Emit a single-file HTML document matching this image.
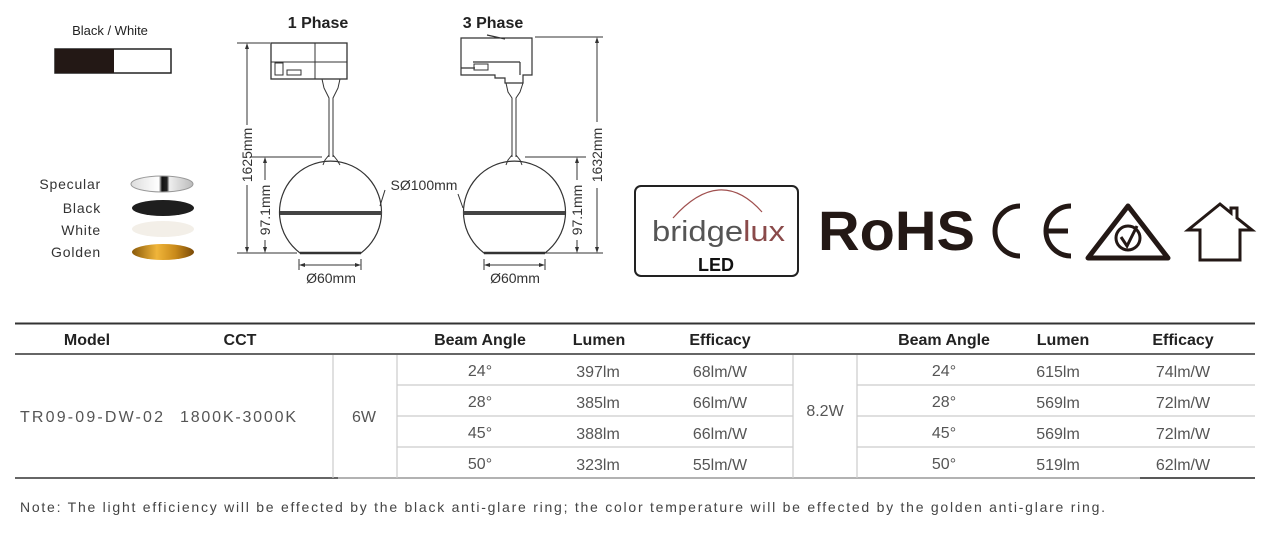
<!DOCTYPE html>
<html><head><meta charset="utf-8"><style>
html,body{margin:0;padding:0;background:#fff;}
svg{display:block;font-family:"Liberation Sans",sans-serif;}
</style></head><body>
<svg width="1273" height="533" viewBox="0 0 1273 533" xmlns="http://www.w3.org/2000/svg">
<text x="110" y="35" font-size="13" text-anchor="middle" fill="#222">Black  / White</text>
<rect x="55" y="49" width="116" height="24" fill="#fff" stroke="#222" stroke-width="1.5"/>
<rect x="55" y="49" width="59" height="24" fill="#231815"/>
<g font-size="14" fill="#333" text-anchor="end" letter-spacing="0.8">
<text x="101" y="189">Specular</text>
<text x="101" y="213">Black</text>
<text x="101" y="235">White</text>
<text x="101" y="257">Golden</text>
</g>
<defs>
<linearGradient id="gold" x1="0" x2="1"><stop offset="0" stop-color="#8a5a0a"/><stop offset="0.4" stop-color="#f0b53a"/><stop offset="0.7" stop-color="#c98a1a"/><stop offset="1" stop-color="#7a4a08"/></linearGradient>
<linearGradient id="spec" x1="0" x2="1"><stop offset="0" stop-color="#ddd"/><stop offset="0.45" stop-color="#fff"/><stop offset="0.5" stop-color="#111"/><stop offset="0.58" stop-color="#222"/><stop offset="0.62" stop-color="#eee"/><stop offset="1" stop-color="#bbb"/></linearGradient>
</defs>
<ellipse cx="162" cy="184" rx="31" ry="8" fill="url(#spec)" stroke="#999" stroke-width="1"/>
<ellipse cx="163" cy="208" rx="31" ry="8" fill="#1e1e1e"/>
<ellipse cx="163" cy="229" rx="31" ry="8" fill="#f3efe8"/>
<ellipse cx="163" cy="252" rx="31" ry="8" fill="url(#gold)"/>

<text x="318" y="28" font-size="16" font-weight="bold" text-anchor="middle" fill="#222">1 Phase</text>
<g stroke="#333" stroke-width="1" fill="none">
<line x1="237" y1="43" x2="270" y2="43"/>
<line x1="237" y1="253" x2="297" y2="253"/>
<line x1="247" y1="45" x2="247" y2="125"/><line x1="247" y1="185" x2="247" y2="251"/>
<line x1="250" y1="157" x2="322" y2="157"/>
<line x1="265" y1="159" x2="265" y2="180"/><line x1="265" y1="240" x2="265" y2="251"/>
<rect x="271" y="43" width="76" height="36" stroke-width="1.3"/>
<line x1="271" y1="62" x2="347" y2="62"/>
<line x1="315" y1="43" x2="315" y2="79"/>
<rect x="275" y="63" width="8" height="12"/><rect x="287" y="70" width="14" height="5"/>
<path d="M322 79 L340 79 L338 88 L333 98 L333 157 M322 79 L324 88 L329 98 L329 157"/>
<path d="M329 155 L325 160 L323 165 M333 155 L337 160 L340 165"/>
<path d="M300 253 A51 51 0 1 1 361 253 Z" stroke-width="1.2"/>
<line x1="300" y1="253" x2="361" y2="253" stroke-width="2.5"/>
<line x1="299" y1="259" x2="299" y2="270"/><line x1="361" y1="259" x2="361" y2="270"/>
<line x1="301" y1="265" x2="359" y2="265"/>
<line x1="385" y1="190" x2="380" y2="206"/>
</g>
<rect x="280" y="211" width="102" height="4" fill="#444"/>
<g fill="#333">
<path d="M247 43 l-2 6 h4z M247 253 l-2 -6 h4z M265 157 l-2 6 h4z M265 253 l-2 -6 h4z M299 265 l6 -2 v4z M361 265 l-6 -2 v4z"/>
</g>
<g font-size="14" fill="#333">
<text transform="translate(252,155) rotate(-90)" text-anchor="middle">1625mm</text>
<text transform="translate(270,210) rotate(-90)" text-anchor="middle">97.1mm</text>
<text x="331" y="283" text-anchor="middle">Ø60mm</text>
<text x="424" y="190" text-anchor="middle">SØ100mm</text>
</g>

<text x="493" y="28" font-size="16" font-weight="bold" text-anchor="middle" fill="#222">3 Phase</text>
<g stroke="#333" stroke-width="1" fill="none">
<line x1="535" y1="37" x2="603" y2="37"/>
<line x1="545" y1="253" x2="603" y2="253"/>
<line x1="597" y1="39" x2="597" y2="122"/><line x1="597" y1="188" x2="597" y2="251"/>
<line x1="525" y1="157" x2="586" y2="157"/>
<line x1="577" y1="159" x2="577" y2="180"/><line x1="577" y1="240" x2="577" y2="251"/>
<path d="M461 38 L532 38 L532 75 L523 75 L523 83 L505 83 L505 78 L495 78 L495 75 L461 75 Z M461 68 L475 68 M473 62 L520 62 M520 62 L520 75 M487 35 L505 39" stroke-width="1.2"/>
<rect x="474" y="64" width="14" height="6"/>
<path d="M506 83 L523 83 L520 92 L516 98 L516 157 M506 83 L508 92 L512 98 L512 157"/>
<path d="M512 155 L508 160 L506 165 M516 155 L520 160 L522 165"/>
<path d="M484 253 A51 51 0 1 1 545 253 Z" stroke-width="1.2"/>
<line x1="484" y1="253" x2="545" y2="253" stroke-width="2.5"/>
<line x1="484" y1="259" x2="484" y2="270"/><line x1="545" y1="259" x2="545" y2="270"/>
<line x1="486" y1="265" x2="543" y2="265"/>
<line x1="458" y1="194" x2="463" y2="208"/>
</g>
<rect x="463" y="211" width="102" height="4" fill="#444"/>
<g fill="#333">
<path d="M597 37 l-2 6 h4z M597 253 l-2 -6 h4z M577 157 l-2 6 h4z M577 253 l-2 -6 h4z M484 265 l6 -2 v4z M545 265 l-6 -2 v4z"/>
</g>
<g font-size="14" fill="#333">
<text transform="translate(602,155) rotate(-90)" text-anchor="middle">1632mm</text>
<text transform="translate(582,210) rotate(-90)" text-anchor="middle">97.1mm</text>
<text x="515" y="283" text-anchor="middle">Ø60mm</text>
</g>

<rect x="635" y="186" width="163" height="90" rx="6" fill="#fff" stroke="#222" stroke-width="2"/>
<path d="M673 218 Q720 165 762 212" stroke="#a0504f" stroke-width="1.2" fill="none"/>
<text x="652" y="241" font-size="29" fill="#555" textLength="133" lengthAdjust="spacingAndGlyphs">bridge<tspan fill="#8a4a4a">lux</tspan></text>
<text x="716" y="271" font-size="18" font-weight="bold" text-anchor="middle" fill="#111">LED</text>
<text x="818" y="250" font-size="56" font-weight="bold" fill="#231815" textLength="157" lengthAdjust="spacingAndGlyphs">RoHS</text>
<path d="M1020 206 A25 25 0 0 0 1020 256" stroke="#231815" stroke-width="5" fill="none"/>
<path d="M1071 206 A25 25 0 0 0 1071 256 M1047 231 L1068 231" stroke="#231815" stroke-width="5" fill="none"/>
<path d="M1128 206 L1168 258 L1088 258 Z" stroke="#231815" stroke-width="5" fill="none" stroke-linejoin="round"/>
<circle cx="1128" cy="238" r="12" stroke="#231815" stroke-width="3" fill="none"/>
<path d="M1121 237 L1127 246 L1137 226" stroke="#231815" stroke-width="3" fill="none"/>
<path d="M1188 230 L1220 204 L1231 213 L1231 208 L1237 208 L1237 218 L1252 230 L1240 230 L1240 260 L1200 260 L1200 230 Z" stroke="#231815" stroke-width="3" fill="none" stroke-linejoin="miter"/>

<line x1="15" y1="323.5" x2="1255" y2="323.5" stroke="#333" stroke-width="2"/>
<line x1="15" y1="354" x2="1255" y2="354" stroke="#333" stroke-width="1.5"/>
<line x1="15" y1="478" x2="338" y2="478" stroke="#333" stroke-width="1.5"/>
<line x1="338" y1="478" x2="1255" y2="478" stroke="#999" stroke-width="1.5"/>
<line x1="1140" y1="478" x2="1255" y2="478" stroke="#333" stroke-width="1.5"/>
<g stroke="#ccc" stroke-width="1.2">
<line x1="333" y1="355" x2="333" y2="478"/><line x1="397" y1="355" x2="397" y2="478"/>
<line x1="793" y1="355" x2="793" y2="478"/><line x1="857" y1="355" x2="857" y2="478"/>
<line x1="397" y1="385" x2="793" y2="385"/><line x1="397" y1="416" x2="793" y2="416"/><line x1="397" y1="447" x2="793" y2="447"/>
<line x1="857" y1="385" x2="1255" y2="385"/><line x1="857" y1="416" x2="1255" y2="416"/><line x1="857" y1="447" x2="1255" y2="447"/>
</g>
<g font-size="16" font-weight="bold" fill="#222" text-anchor="middle">
<text x="87" y="345">Model</text><text x="240" y="345">CCT</text>
<text x="480" y="345">Beam Angle</text><text x="599" y="345">Lumen</text><text x="720" y="345">Efficacy</text>
<text x="944" y="345">Beam Angle</text><text x="1063" y="345">Lumen</text><text x="1183" y="345">Efficacy</text>
</g>
<g font-size="16" fill="#555">
<text x="20" y="422" textLength="143">TR09-09-DW-02</text><text x="180" y="422" textLength="116">1800K-3000K</text>
</g>
<g font-size="16" fill="#555" text-anchor="middle">
<text x="364" y="422">6W</text><text x="825" y="416">8.2W</text>
<text x="480" y="376">24°</text><text x="598" y="377">397lm</text><text x="720" y="377">68lm/W</text>
<text x="480" y="407">28°</text><text x="598" y="408">385lm</text><text x="720" y="408">66lm/W</text>
<text x="480" y="438">45°</text><text x="598" y="439">388lm</text><text x="720" y="439">66lm/W</text>
<text x="480" y="469">50°</text><text x="598" y="470">323lm</text><text x="720" y="470">55lm/W</text>
<text x="944" y="376">24°</text><text x="1058" y="377">615lm</text><text x="1183" y="377">74lm/W</text>
<text x="944" y="407">28°</text><text x="1058" y="408">569lm</text><text x="1183" y="408">72lm/W</text>
<text x="944" y="438">45°</text><text x="1058" y="439">569lm</text><text x="1183" y="439">72lm/W</text>
<text x="944" y="469">50°</text><text x="1058" y="470">519lm</text><text x="1183" y="470">62lm/W</text>
</g>
<text x="20" y="512" font-size="14" fill="#444" textLength="1085">Note: The light efficiency will be effected by the black anti-glare ring; the color temperature will be effected by the golden anti-glare ring.</text>
</svg>
</body></html>
